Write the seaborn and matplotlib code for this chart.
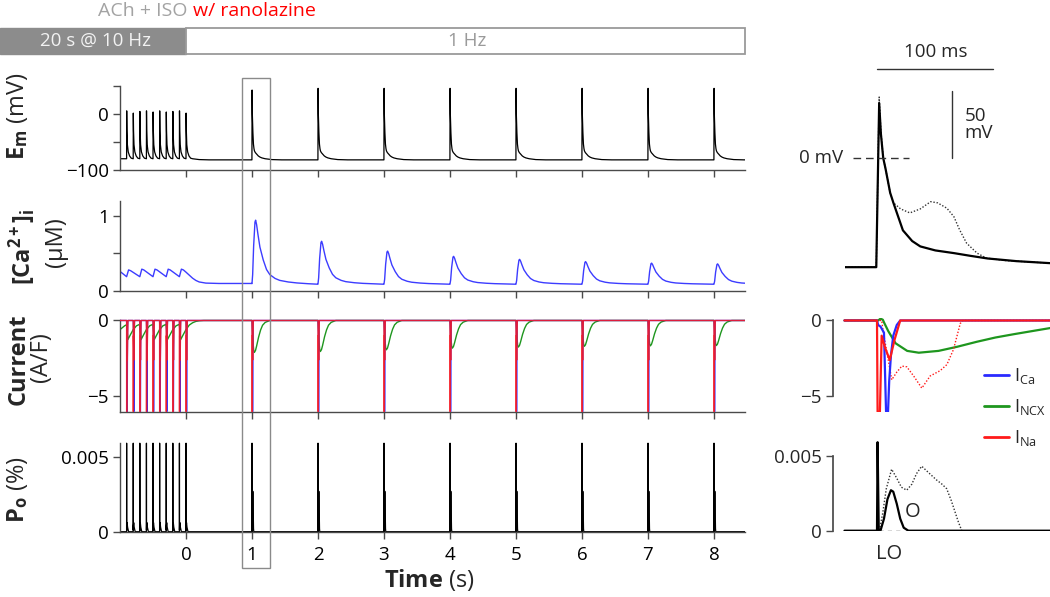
import numpy as np
import matplotlib
matplotlib.use("Agg")
import matplotlib.pyplot as plt
import seaborn as sns
from matplotlib.patches import Rectangle
from matplotlib.lines import Line2D

# ---------------- data ----------------
time_ticks = [0, 1, 2, 3, 4, 5, 6, 7, 8]
beats_10hz = [-0.9, -0.8, -0.7, -0.6, -0.5, -0.4, -0.3, -0.2, -0.1, 0.0]
beats_1hz = [1, 2, 3, 4, 5, 6, 7, 8]

# membrane potential (mV)
em_start = -80
em_peaks_10hz = [5, 1, 4, 5, 3, 5, 3, 4, 5, 1]
ap10_t_ms = [0, 1.5, 5, 12, 25, 45, 70, 99]
ap10_mv = [-80, np.nan, -30, -55, -68, -75, -79, -80]
em_post_t = [0.2, 0.35, 0.9]
em_post_mv = [-81.5, -82, -82]
em_peaks_1hz = [42, 45, 45, 45, 45, 45, 45, 45]
ap1_t_ms = [-1, 1.5, 3, 5, 7, 11, 14, 22, 30, 37, 50, 66, 80, 95, 120, 149, 200, 300, 450, 990]
ap1_mv = [-82, np.nan, 18, 0, -8, -26, -34, -54, -62, -66, -69, -71, -73, -75, -77, -78.5, -80, -81.5, -82, -82]

# [Ca2+]i (uM)
ca_10hz_t = [-1.0, -0.9, -0.87, -0.84, -0.7, -0.67, -0.64, -0.5, -0.47, -0.44, -0.3, -0.27, -0.24,
             -0.1, -0.07, -0.04, 0.0, 0.05, 0.1, 0.15, 0.2, 0.3, 0.5, 0.999]
ca_10hz_um = [0.26, 0.19, 0.28, 0.27, 0.19, 0.29, 0.28, 0.19, 0.29, 0.28, 0.19, 0.29, 0.28,
              0.19, 0.29, 0.28, 0.25, 0.21, 0.17, 0.14, 0.12, 0.105, 0.1, 0.1]
ca_diastolic = 0.09
ca_peaks_1hz = [0.94, 0.66, 0.53, 0.46, 0.42, 0.39, 0.37, 0.36]
ca_shape_s = [0, 0.01, 0.025, 0.045, 0.055, 0.07, 0.09, 0.12, 0.17, 0.22, 0.27, 0.35, 0.42,
              0.55, 0.68, 0.85, 0.999]
ca_shape_frac = [0.01, 0.15, 0.6, 0.97, 1.0, 0.93, 0.78, 0.58, 0.38, 0.23, 0.15, 0.09, 0.06,
                 0.035, 0.02, 0.008, 0.0]

# NCX current (A/F)
ncx_10hz_t = [-1.0, -0.93, -0.9, -0.88, -0.85, -0.8, -0.75, -0.7, -0.68, -0.65, -0.6, -0.55, -0.5,
              -0.48, -0.45, -0.4, -0.35, -0.3, -0.28, -0.25, -0.2, -0.15, -0.1, -0.08, -0.05,
              0.0, 0.05, 0.1, 0.15, 0.2, 0.27, 0.999]
ncx_10hz = [-0.6, -0.35, -0.28, -1.25, -1.0, -0.6, -0.35, -0.25, -1.25, -1.0, -0.6, -0.35, -0.25,
            -1.25, -1.0, -0.6, -0.35, -0.25, -1.25, -1.0, -0.6, -0.35, -0.25, -1.25, -1.0,
            -0.6, -0.3, -0.15, -0.06, -0.02, 0.0, 0.0]
ncx_min_1hz = [2.1, 2.04, 1.93, 1.82, 1.75, 1.7, 1.67, 1.65]
ncx_shape_s = [0, 0.005, 0.01, 0.016, 0.026, 0.036, 0.053, 0.07, 0.1, 0.13, 0.16, 0.2, 0.27, 0.999]
ncx_shape_frac = [0, 0, 0.33, 0.7, 0.94, 1.0, 0.94, 0.8, 0.52, 0.3, 0.15, 0.06, 0, 0]

# single-beat close-up (ms), beat 1: solid = with ranolazine, dotted = control
em_ins_t = [-28, -1, 1.5, 3, 5, 7, 11, 14, 22, 30, 37, 50, 66, 80, 95, 120, 149]
em_ins_ran = [-81.5, -81.5, 41, 18, 0, -8, -26, -34, -54, -62, -66, -69, -71, -73, -75, -77, -78.5]
em_ins_ctrl_t = [-28, -1, 1.5, 3, 5, 7, 11, 14, 20, 28, 37, 46, 52, 60, 66, 71, 77, 86, 94, 110, 149]
em_ins_ctrl = [-81.5, -81.5, 45.5, 20, 0, -8, -26, -33.6, -38, -41, -38, -32.6, -33.5, -37.5,
               -43.8, -53.7, -63.6, -71, -74.7, -76.5, -78.5]

ina_t = [-28, 0, 0.5, 2.5, 4, 7, 11, 15, 20, 149]
ina = [0, 0, -6, -6, -1.0, -1.8, -2.6, -1.3, 0, 0]
ica_t = [-28, 0, 1, 3, 6, 7.8, 9.5, 10.5, 12, 14, 17, 20, 149]
ica = [0, 0, -0.3, -0.4, -0.8, -6, -6, -4.0, -2.3, -1.0, -0.3, 0, 0]
ncx_t = [-28, 1, 3, 5, 6.3, 9.7, 16, 26, 36, 53, 69, 86, 102, 118, 135, 149]
ncx = [0, 0, 0.12, 0.05, -0.17, -0.7, -1.5, -2.0, -2.12, -2.0, -1.73, -1.4, -1.12, -0.9, -0.68, -0.5]
ina_ctrl_t = [-28, 4, 5.5, 12.7, 17, 21.4, 25.7, 32, 38.6, 45.8, 54.4, 60.2, 65.9, 71.7, 74, 149]
ina_ctrl = [0, 0, -0.8, -3.9, -3.4, -3.0, -3.05, -3.7, -4.45, -3.65, -3.3, -2.9, -1.9, -0.2, 0, 0]

po_ins_t = [-28, 0, 0.5, 1.5, 3, 6, 9, 12, 14, 17, 20, 23, 27, 149]
po_ins_ran = [0, 0, 0.0059, 0, 0, 0.0008, 0.0021, 0.0027, 0.0026, 0.0018, 0.0008, 0.0002, 0, 0]
po_ins_ctrl_t = [-28, 2, 5, 8, 12.6, 17, 21, 25.6, 30, 34, 38.5, 44, 51, 56, 60, 64, 67, 70, 73, 149]
po_ins_ctrl = [0, 0, 0.0012, 0.0028, 0.0041, 0.0035, 0.0029, 0.0027, 0.0031, 0.0038, 0.0043,
               0.0039, 0.0034, 0.0031, 0.0028, 0.002, 0.0013, 0.0006, 0, 0]
po10_t_ms = [0, 0.5, 1.5, 3, 8, 15, 30]
po10 = [0, 0.0059, 0.0001, 0.0004, 0.0006, 0.0003, 0]

legend_labels = [r'I$_{\mathrm{Ca}}$', r'I$_{\mathrm{NCX}}$', r'I$_{\mathrm{Na}}$']

# ---------------- build the long traces ----------------
def with_peak(onsets, peaks, t_ms, vals, T, V):
    for b, p in zip(onsets, peaks):
        for tt, vv in zip(t_ms, vals):
            T.append(b + tt / 1000.0)
            V.append(p if np.isnan(vv) else vv)

def tile(onsets, t_ms, vals, T, V, lo=0, hi=100):
    for b in onsets:
        for tt, vv in zip(t_ms, vals):
            if lo <= tt <= hi:
                T.append(b + tt / 1000.0)
                V.append(vv)

all_beats = beats_10hz + beats_1hz

em_T, em_V = [-1.0], [em_start]
with_peak(beats_10hz, em_peaks_10hz, ap10_t_ms, ap10_mv, em_T, em_V)
em_T += em_post_t
em_V += em_post_mv
with_peak(beats_1hz, em_peaks_1hz, ap1_t_ms, ap1_mv, em_T, em_V)

ca_T, ca_V = list(ca_10hz_t), list(ca_10hz_um)
for b, p in zip(beats_1hz, ca_peaks_1hz):
    for tt, f in zip(ca_shape_s, ca_shape_frac):
        ca_T.append(b + tt)
        ca_V.append(ca_diastolic + f * (p - ca_diastolic))

ncx_T, ncx_V = list(ncx_10hz_t), list(ncx_10hz)
for b, m in zip(beats_1hz, ncx_min_1hz):
    for tt, f in zip(ncx_shape_s, ncx_shape_frac):
        ncx_T.append(b + tt)
        ncx_V.append(-m * f)

ina_T, ina_V = [-1.0], [0.0]
tile(all_beats, ina_t, ina, ina_T, ina_V, 0, 25)
ina_T.append(8.6); ina_V.append(0.0)
ica_T, ica_V = [-1.0], [0.0]
tile(all_beats, ica_t, ica, ica_T, ica_V, 0, 25)
ica_T.append(8.6); ica_V.append(0.0)

po_T, po_V = [-1.0], [0.0]
tile(beats_10hz, po10_t_ms, po10, po_T, po_V, 0, 99)
tile(beats_1hz, po_ins_t, po_ins_ran, po_T, po_V, 0, 30)
po_T.append(8.6); po_V.append(0.0)

# ---------------- style ----------------
sns.set_theme(style="ticks")
plt.rcParams['font.family'] = ['Open Sans', 'DejaVu Sans']
plt.rcParams['mathtext.fontset'] = 'custom'
plt.rcParams['mathtext.rm'] = 'Open Sans'
plt.rcParams['mathtext.bf'] = 'Open Sans:bold'
plt.rcParams['mathtext.it'] = 'Open Sans:italic'
plt.rcParams['axes.unicode_minus'] = True

W, H = 1050, 597
fig = plt.figure(figsize=(W / 100, H / 100), dpi=100)

def rect(x0, x1, ybot, ytop):
    return [x0 / W, 1 - ybot / H, (x1 - x0) / W, (ybot - ytop) / H]

SPINE = '#4a4a4a'
TFS = 13.5
LFS = 17
BLUE = '#2a2aff'
CA_BLUE = '#3c3cff'
GREEN = '#1e961e'
RED = '#ff1a1a'

def style_left(ax, ylim, ybounds, yticks, ylabels, xlabels=False):
    ax.set_xlim(-1, 8.47)
    ax.set_ylim(*ylim)
    sns.despine(ax=ax)
    ax.spines['left'].set_bounds(*ybounds)
    for s in ('left', 'bottom'):
        ax.spines[s].set_color(SPINE)
        ax.spines[s].set_linewidth(1.0)
    ax.set_xticks(time_ticks)
    ax.set_xticklabels([str(t) for t in time_ticks] if xlabels else [])
    ax.set_yticks(yticks)
    ax.set_yticklabels(ylabels)
    ax.tick_params(direction='out', length=5, width=1, color=SPINE, labelsize=TFS, pad=3,
                   labelcolor='black')
    ax.set_facecolor('none')

def style_right(ax, xlim, ylim, ybounds, yticks, ylabels):
    ax.set_xlim(*xlim)
    ax.set_ylim(*ylim)
    sns.despine(ax=ax, bottom=True)
    ax.spines['left'].set_bounds(*ybounds)
    ax.spines['left'].set_color(SPINE)
    ax.set_xticks([])
    ax.set_yticks(yticks)
    ax.set_yticklabels(ylabels)
    ax.tick_params(direction='out', length=5, width=1, color=SPINE, labelsize=TFS, pad=3)
    ax.set_facecolor('none')

def line(ax, x, y, color, lw, ls='-', z=2, alpha=1.0):
    sns.lineplot(x=x, y=y, ax=ax, color=color, linewidth=lw, linestyle=ls,
                 estimator=None, sort=False, zorder=z, alpha=alpha)

# ---------------- left panels ----------------
ax_em = fig.add_axes(rect(120, 745, 170, 84.4))
line(ax_em, em_T, em_V, 'black', 0.9)
style_left(ax_em, (-100, 52), (-100, 50), [-100, -50, 0, 50], ['\u2212100', '', '0', ''])

ax_ca = fig.add_axes(rect(120, 745, 291, 200.6))
line(ax_ca, ca_T, ca_V, CA_BLUE, 1.0)
style_left(ax_ca, (0, 1.2), (0, 1.2), [0, 0.5, 1], ['0', '', '1'])

ax_cur = fig.add_axes(rect(120, 745, 411.7, 318.2))
line(ax_cur, ncx_T, ncx_V, GREEN, 1.0, z=2)
line(ax_cur, ica_T, ica_V, BLUE, 1.0, z=3)
line(ax_cur, ina_T, ina_V, RED, 1.0, z=4, alpha=0.85)
style_left(ax_cur, (-6, 0.15), (-6, 0), [-5, 0], ['\u22125', '0'])

ax_po = fig.add_axes(rect(120, 745, 531.7, 440.2))
line(ax_po, po_T, po_V, 'black', 0.9)
style_left(ax_po, (0, 0.0061), (0, 0.0059), [0, 0.005], ['0', '0.005'], xlabels=True)
ax_po.tick_params(axis='x', pad=5)

# ---------------- right panels (beat 1 close-up) ----------------
ax_em_r = fig.add_axes(rect(845, 1050, 273.2, 42.8))
line(ax_em_r, em_ins_ctrl_t, em_ins_ctrl, '#333333', 1.0, ls=(0, (1, 1.3)))
line(ax_em_r, em_ins_t, em_ins_ran, 'black', 1.6)
ax_em_r.set_xlim(-28, 149)
ax_em_r.set_ylim(-86, 86)
ax_em_r.axis('off')
ax_em_r.plot([-21, 27], [0, 0], color='#333333', lw=1.0, ls=(0, (5.5, 3.5)))
ax_em_r.plot([0, 100], [66.2, 66.2], color='#333333', lw=1.0, clip_on=False)
ax_em_r.plot([64.5, 64.5], [0, 50], color='#333333', lw=1.0)
ax_em_r.text(50, 79, '100 ms', ha='center', va='center', fontsize=TFS)
ax_em_r.text(75, 25, '50\nmV', ha='left', va='center', fontsize=TFS, linespacing=0.95)
ax_em_r.text(-30, 0, '0 mV', ha='right', va='center', fontsize=TFS)

ax_cur_r = fig.add_axes(rect(833, 1050, 411.7, 318.2))
line(ax_cur_r, ncx_t, ncx, GREEN, 1.6, z=2)
line(ax_cur_r, ina_ctrl_t, ina_ctrl, RED, 1.0, ls=(0, (1, 1.3)), z=2)
line(ax_cur_r, ica_t, ica, BLUE, 1.6, z=3)
line(ax_cur_r, ina_t, ina, RED, 1.6, z=4)
style_right(ax_cur_r, (-37.9, 149), (-6, 0.15), (-5, 0), [-5, 0], ['\u22125', '0'])
handles = [Line2D([], [], color=c, lw=2) for c in (BLUE, GREEN, RED)]
ax_cur_r.legend(handles, legend_labels, loc='upper left', bbox_to_anchor=(984 / W, 1 - 366 / H),
                bbox_transform=fig.transFigure, frameon=False, fontsize=13, handlelength=1.4,
                handletextpad=0.25, labelspacing=0.62, borderpad=0, borderaxespad=0)

ax_po_r = fig.add_axes(rect(833, 1050, 530.7, 439.2))
line(ax_po_r, po_ins_ctrl_t, po_ins_ctrl, '#333333', 1.0, ls=(0, (1, 1.3)))
line(ax_po_r, po_ins_t, po_ins_ran, 'black', 1.6)
ax_po_r.plot([2, 21], [0, 0], color='#333333', lw=1.0, ls=(0, (3, 3)), zorder=5)
style_right(ax_po_r, (-37.9, 149), (0, 0.0061), (0, 0.005), [0, 0.005], ['0', '0.005'])
ax_po_r.text(31, 0.00122, 'O', ha='center', va='center', fontsize=TFS + 1)
ax_po_r.text(10.8, -0.00155, 'LO', ha='center', va='center', fontsize=TFS + 1, clip_on=False)

# ---------------- labels ----------------
def ftext(x, y, s, **kw):
    fig.text(x / W, 1 - y / H, s, **kw)

ftext(18, 116, r'$\mathbf{E_m}$ (mV)', rotation=90, ha='center', va='center', fontsize=LFS)
ftext(22, 247, r'$\mathbf{[Ca^{2+}]_i}$', rotation=90, ha='center', va='center', fontsize=LFS)
ftext(56, 242, '(\u00b5M)', rotation=90, ha='center', va='center', fontsize=LFS)
ftext(19, 359, 'Current', rotation=90, ha='center', va='center', fontsize=LFS, fontweight='bold')
ftext(41, 357, '(A/F)', rotation=90, ha='center', va='center', fontsize=LFS)
ftext(17, 490, r'$\mathbf{P_o}$ (%)', rotation=90, ha='center', va='center', fontsize=LFS)
ftext(429, 580, r'$\mathbf{Time}$ (s)', ha='center', va='center', fontsize=LFS)

# protocol bar
fig.patches.append(Rectangle((0, 1 - 54 / H), 186 / W, 26 / H, transform=fig.transFigure,
                             facecolor='#8c8c8c', edgecolor='#8c8c8c', lw=1))
fig.patches.append(Rectangle((186 / W, 1 - 54 / H), (745 - 186) / W, 26 / H, transform=fig.transFigure,
                             facecolor='white', edgecolor='#9a9a9a', lw=1.3))
ftext(95, 41, '20 s @ 10 Hz', ha='center', va='center', fontsize=TFS, color='#f2f2f2')
ftext(467, 41, '1 Hz', ha='center', va='center', fontsize=TFS, color='#9a9a9a')
ftext(98, 11, 'ACh + ISO', ha='left', va='center', fontsize=TFS + 0.5, color='#a3a3a3')
ftext(193, 11, 'w/ ranolazine', ha='left', va='center', fontsize=TFS + 0.5, color='#ff0000')

# box around beat 1
fig.patches.append(Rectangle((242 / W, 1 - 568 / H), 28 / W, 490 / H, transform=fig.transFigure,
                             fill=False, edgecolor='#8a8a8a', lw=1.0, zorder=10))

fig.savefig('out.png', dpi=100)
